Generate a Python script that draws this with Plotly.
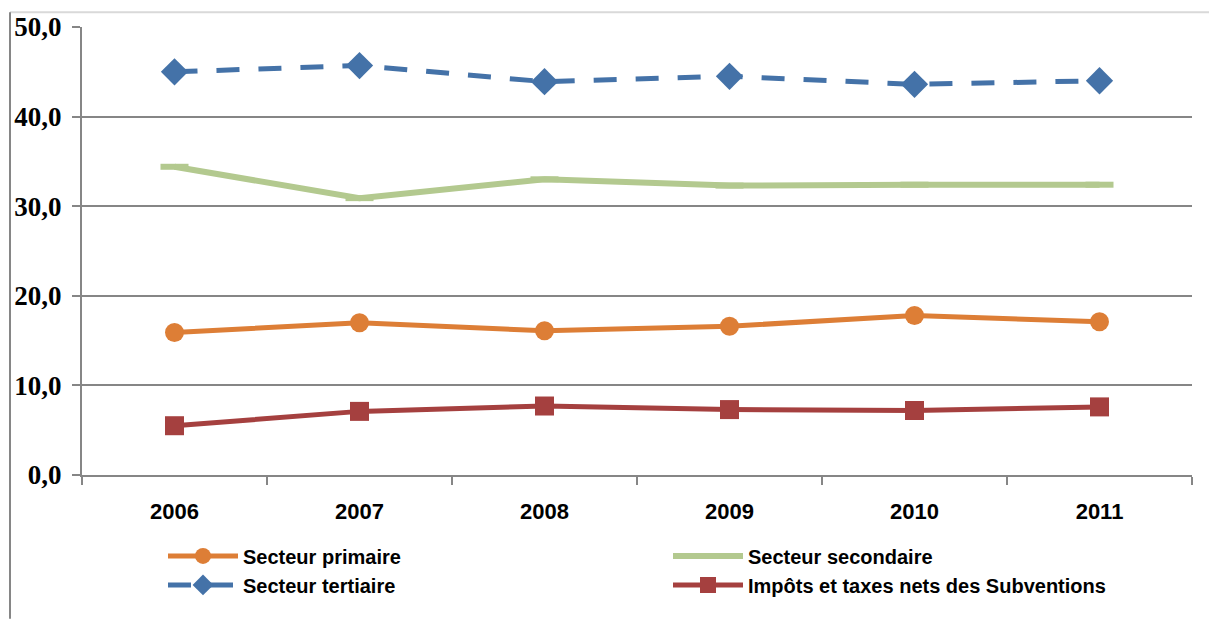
import plotly.graph_objects as go

years = ["2006", "2007", "2008", "2009", "2010", "2011"]
primaire = [15.9, 17.0, 16.1, 16.6, 17.8, 17.1]
secondaire = [34.4, 30.9, 33.0, 32.3, 32.4, 32.4]
tertiaire = [45.0, 45.7, 43.9, 44.5, 43.6, 44.0]
impots = [5.5, 7.1, 7.7, 7.3, 7.2, 7.6]
y_ticks = [0, 10, 20, 30, 40, 50]

fig = go.Figure()
fig.add_trace(go.Scatter(x=years, y=primaire, name="Secteur primaire", mode="lines+markers",
                         line=dict(color="#DD7E36", width=5),
                         marker=dict(symbol="circle", size=19, color="#DD7E36")))
fig.add_trace(go.Scatter(x=years, y=secondaire, name="Secteur secondaire", mode="lines+markers",
                         line=dict(color="#B3C98F", width=6),
                         marker=dict(symbol="line-ew", size=20, color="#B3C98F",
                                     line=dict(color="#B3C98F", width=6))))
fig.add_trace(go.Scatter(x=years, y=tertiaire, name="Secteur tertiaire", mode="lines+markers",
                         line=dict(color="#4472A8", width=5, dash="23px,19px"),
                         marker=dict(symbol="diamond", size=21, color="#4472A8")))
fig.add_trace(go.Scatter(x=years, y=impots, name="Impôts et taxes nets des Subventions", mode="lines+markers",
                         line=dict(color="#A5403F", width=5),
                         marker=dict(symbol="square", size=19, color="#A5403F")))

fig.update_layout(
    width=1209, height=620,
    margin=dict(l=82, r=17, t=23, b=145),
    paper_bgcolor="white", plot_bgcolor="white",
    separators=", ",
    showlegend=True,
    legend=dict(orientation="h", x=(163 - 82) / 1110, y=-(556 - 475 - 19) / 452, xanchor="left", yanchor="top",
                entrywidth=420, entrywidthmode="pixels", itemwidth=70,
                font=dict(family="Liberation Sans", size=20, color="black", weight="bold"),
                tracegroupgap=0),
    xaxis=dict(type="category", range=[-0.5, 5.5], tickson="boundaries", ticks="outside",
               ticklen=8, tickwidth=2, tickcolor="#868686", ticklabelstandoff=16,
               showline=True, linecolor="#868686", linewidth=2, showgrid=False,
               tickfont=dict(family="Liberation Sans", size=22, color="black", weight="bold")),
    yaxis=dict(range=[0, 50], tickvals=y_ticks, tickformat=".1f", ticks="outside", ticklen=8,
               tickwidth=2, tickcolor="#868686", ticklabelstandoff=5,
               showline=True, linecolor="#868686", linewidth=2,
               showgrid=True, gridcolor="#868686", gridwidth=2, zeroline=False,
               tickfont=dict(family="Liberation Serif", size=27, color="black", weight="bold")),
    shapes=[
        dict(type="line", xref="paper", yref="paper", x0=(10 - 82) / 1110, x1=(1209 - 82) / 1110,
             y0=(475 - 8) / 452, y1=(475 - 8) / 452, line=dict(color="#D9D9D9", width=2)),
        dict(type="line", xref="paper", yref="paper", x0=(10 - 82) / 1110, x1=(10 - 82) / 1110,
             y0=(475 - 8) / 452, y1=(475 - 620) / 452, line=dict(color="#868686", width=2)),
    ],
)

fig.write_html("out.html")
